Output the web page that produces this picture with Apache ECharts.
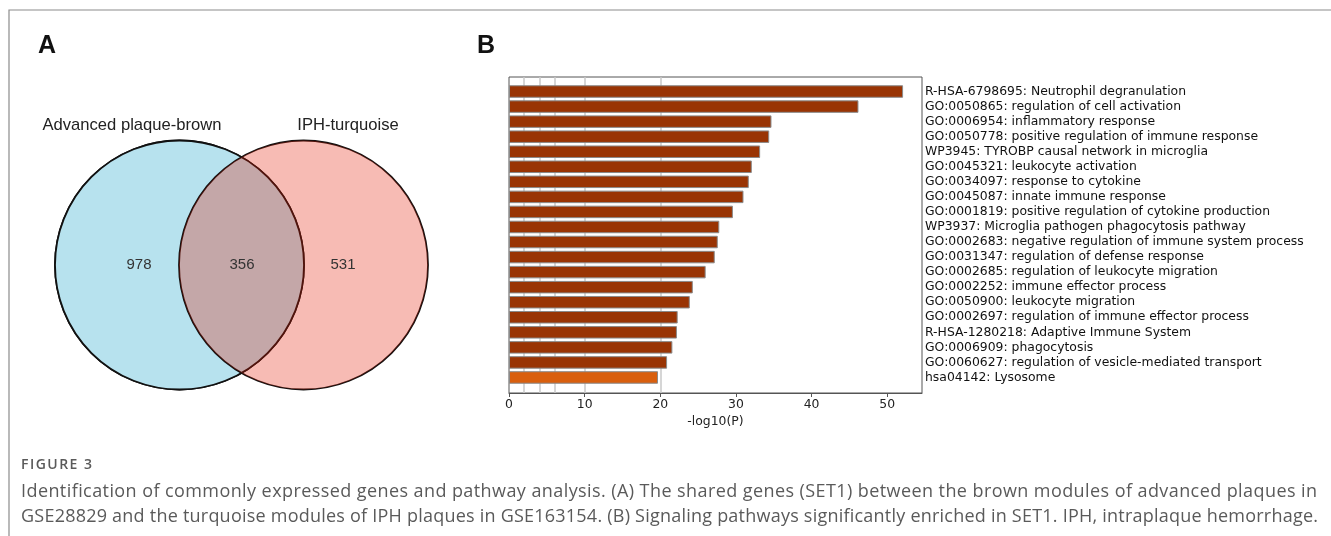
<!DOCTYPE html>
<html>
<head>
	<meta charset="utf-8">
	<script src="https://cdn.jsdelivr.net/npm/echarts@6/dist/echarts.min.js"></script>
	<style>
		html, body { margin: 0; padding: 0; background: #fff; }
		#main { width: 1331px; height: 536px; }
	</style>
</head>
<body>
<div id="main"></div>
<script type="text/javascript">
	// enrichment terms, top to bottom
	var pathways = [
		'R-HSA-6798695: Neutrophil degranulation',
		'GO:0050865: regulation of cell activation',
		'GO:0006954: inflammatory response',
		'GO:0050778: positive regulation of immune response',
		'WP3945: TYROBP causal network in microglia',
		'GO:0045321: leukocyte activation',
		'GO:0034097: response to cytokine',
		'GO:0045087: innate immune response',
		'GO:0001819: positive regulation of cytokine production',
		'WP3937: Microglia pathogen phagocytosis pathway',
		'GO:0002683: negative regulation of immune system process',
		'GO:0031347: regulation of defense response',
		'GO:0002685: regulation of leukocyte migration',
		'GO:0002252: immune effector process',
		'GO:0050900: leukocyte migration',
		'GO:0002697: regulation of immune effector process',
		'R-HSA-1280218: Adaptive Immune System',
		'GO:0006909: phagocytosis',
		'GO:0060627: regulation of vesicle-mediated transport',
		'hsa04142: Lysosome'
	];
	var logP = [52.1, 46.2, 34.7, 34.4, 33.2, 32.1, 31.7, 31.0, 29.6, 27.8,
		27.6, 27.2, 26.0, 24.3, 23.9, 22.3, 22.2, 21.6, 20.9, 19.7];
	var xTicks = [0, 10, 20, 30, 40, 50];
	var refLines = [2, 4, 6, 10, 20];

	// venn
	var vennSets = ['Advanced plaque-brown', 'IPH-turquoise'];
	var vennCounts = [978, 356, 531];

	var captionHead = 'FIGURE 3';
	var captionLines = [
		'Identification of commonly expressed genes and pathway analysis. (A) The shared genes (SET1) between the brown modules of advanced plaques in',
		'GSE28829 and the turquoise modules of IPH plaques in GSE163154. (B) Signaling pathways significantly enriched in SET1. IPH, intraplaque hemorrhage.'
	];

	var myChart = echarts.init(document.getElementById('main'));

	var xMax = 54.6;
	var plotFont = 'DejaVu Sans';
	var vennFont = 'Liberation Sans, Arial, sans-serif';

	// caption lines are justified to the full width in the figure
	var measureCtx = document.createElement('canvas').getContext('2d');
	function spacedText(str, x, y, width, font, color) {
		measureCtx.font = font;
		var ws = [], total = 0;
		for (var i = 0; i < str.length; i++) {
			var w = measureCtx.measureText(str[i]).width;
			ws.push(w);
			total += w;
		}
		var gap = (width - total) / (str.length - 1);
		var els = [], cx = x;
		for (var j = 0; j < str.length; j++) {
			if (str[j] !== ' ') {
				els.push({type: 'text', silent: true, x: cx, y: y,
					style: {text: str[j], font: font, fill: color, verticalAlign: 'middle'}});
			}
			cx += ws[j] + gap;
		}
		return els;
	}

	var graphics = [
		// page frame
		{type: 'polyline', silent: true, shape: {points: [[9, 536], [9, 10], [1331, 10]]},
			style: {stroke: '#8c8c8c', lineWidth: 1.2, fill: null}},
		{type: 'text', left: 38, top: 34, style: {text: 'A', font: 'bold 25px ' + vennFont, fill: '#111'}},
		{type: 'text', left: 477, top: 34, style: {text: 'B', font: 'bold 25px ' + vennFont, fill: '#111'}},
		// venn circles
		{type: 'circle', silent: true, shape: {cx: 179.5, cy: 265, r: 124.5}, style: {fill: null, stroke: '#111', lineWidth: 1.8}},
		{type: 'circle', silent: true, shape: {cx: 179.5, cy: 265, r: 124.5}, style: {fill: '#B7E2EE'}},
		{type: 'circle', silent: true, shape: {cx: 303.5, cy: 265, r: 124.5}, style: {fill: null, stroke: '#111', lineWidth: 1.8}},
		{type: 'circle', silent: true, shape: {cx: 179.5, cy: 265, r: 124.5}, style: {fill: null, stroke: '#111', lineWidth: 1.8}},
		{type: 'circle', silent: true, shape: {cx: 303.5, cy: 265, r: 124.5}, style: {fill: 'rgba(228,30,8,0.30)'}},
		{type: 'text', x: 132, y: 125, style: {text: vennSets[0], font: '16.6px ' + vennFont, fill: '#222', align: 'center', verticalAlign: 'middle'}},
		{type: 'text', x: 348, y: 125, style: {text: vennSets[1], font: '16.6px ' + vennFont, fill: '#222', align: 'center', verticalAlign: 'middle'}},
		{type: 'text', x: 139, y: 265, style: {text: String(vennCounts[0]), font: '15px ' + vennFont, fill: '#333', align: 'center', verticalAlign: 'middle'}},
		{type: 'text', x: 242, y: 265, style: {text: String(vennCounts[1]), font: '15px ' + vennFont, fill: '#333', align: 'center', verticalAlign: 'middle'}},
		{type: 'text', x: 343, y: 265, style: {text: String(vennCounts[2]), font: '15px ' + vennFont, fill: '#333', align: 'center', verticalAlign: 'middle'}}
	];
	graphics = graphics
		.concat(spacedText(captionHead, 21, 465, 71, '600 14px "Open Sans"', '#5a5a5a'))
		.concat(spacedText(captionLines[0], 21, 492, 1296, '18px "Open Sans"', '#5a5a5a'))
		.concat(spacedText(captionLines[1], 21, 517, 1297, '18px "Open Sans"', '#5a5a5a'));

	var option = {
		animation: false,
		backgroundColor: '#fff',
		grid: [
			// full axes box (frame, x axis, reference lines)
			{left: 509, top: 77, width: 413, height: 316, show: true, borderColor: '#555', borderWidth: 1, backgroundColor: 'transparent'},
			// bar area
			{left: 509, top: 84, width: 413, height: 301}
		],
		xAxis: [
			{
				gridIndex: 0, type: 'value', min: 0, max: xMax,
				name: '-log10(P)', nameLocation: 'middle', nameGap: 23,
				nameTextStyle: {fontFamily: plotFont, fontSize: 12.4, color: '#222'},
				axisLine: {onZero: false, lineStyle: {color: '#555', width: 1}},
				axisTick: {show: true, length: 4, customValues: xTicks, lineStyle: {color: '#555'}},
				axisLabel: {customValues: xTicks, margin: 6, fontFamily: plotFont, fontSize: 12.4, color: '#222'},
				splitLine: {show: false}
			},
			{gridIndex: 1, type: 'value', min: 0, max: xMax, show: false, splitLine: {show: false}}
		],
		yAxis: [
			{gridIndex: 0, type: 'value', min: -1, max: 20, inverse: true, show: false, splitLine: {show: false}},
			{
				gridIndex: 1, type: 'category', data: pathways, inverse: true, position: 'right',
				axisLine: {show: false}, axisTick: {show: false},
				axisLabel: {interval: 0, margin: 3, fontFamily: plotFont, fontSize: 12.4, color: '#111'}
			}
		],
		series: [
			{
				type: 'scatter', xAxisIndex: 0, yAxisIndex: 0, data: [], z: 1, silent: true,
				markLine: {
					silent: true, symbol: 'none', z: 1, label: {show: false},
					lineStyle: {color: '#c8c8c8', width: 1.5, type: 'solid'},
					data: refLines.map(function (v) { return {xAxis: v}; })
				}
			},
			{
				type: 'bar', xAxisIndex: 1, yAxisIndex: 1, z: 10,
				data: logP, barCategoryGap: '17%',
				itemStyle: {
					borderColor: '#8a8a8a', borderWidth: 1,
					color: function (p) { return p.dataIndex === logP.length - 1 ? '#D95F0E' : '#993404'; }
				}
			}
		],
		graphic: graphics
	};
	myChart.setOption(option);
</script>
</body>
</html>
